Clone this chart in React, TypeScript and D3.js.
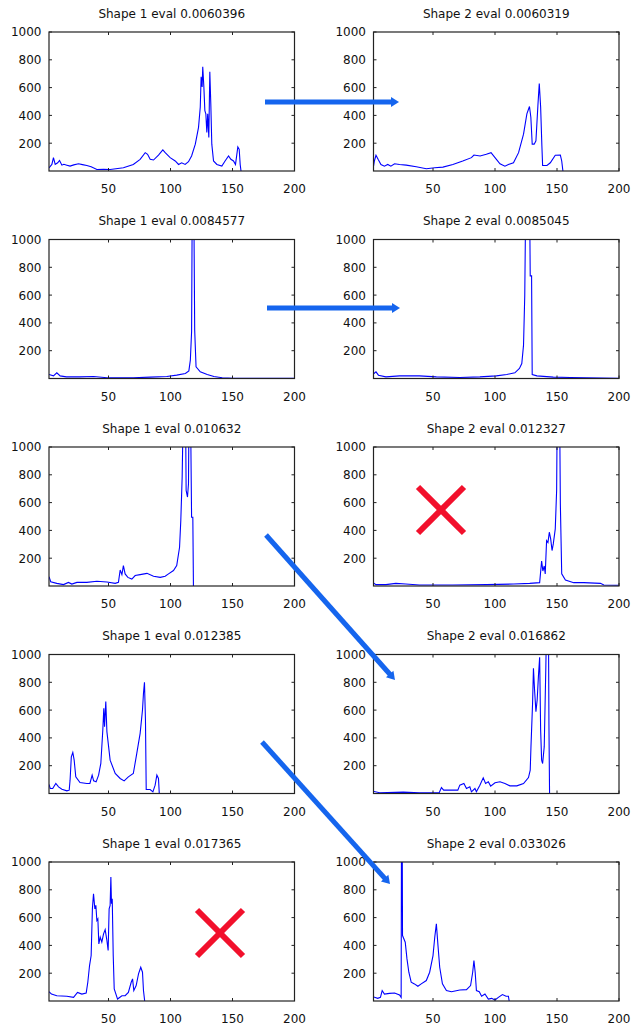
import React from "react";
import * as d3 from "d3";

type Pt = [number, number];

const titles: string[] = [
  "Shape 1 eval 0.0060396",
  "Shape 2 eval 0.0060319",
  "Shape 1 eval 0.0084577",
  "Shape 2 eval 0.0085045",
  "Shape 1 eval 0.010632",
  "Shape 2 eval 0.012327",
  "Shape 1 eval 0.012385",
  "Shape 2 eval 0.016862",
  "Shape 1 eval 0.017365",
  "Shape 2 eval 0.033026",
];

const xTicks = [50, 100, 150, 200];
const yTicks = [200, 400, 600, 800, 1000];

const row1Left: Pt[] = [
  [2, 23], [4.3, 47], [5.6, 96], [7, 47], [9, 59], [10.5, 76], [12.4, 42], [14, 48], [16.4, 42], [19, 35],
  [22, 44], [25.8, 52], [29, 46], [32.5, 40], [36, 30], [40.6, 11], [46, 12], [51.3, 11], [56, 16], [62, 23], [70, 47], [75.5, 84], [79.6, 132],
  [81.5, 120], [83.6, 84], [86.3, 79], [90.3, 115], [93.8, 152], [95.7, 132], [99.7, 96],
  [103.8, 72], [106.5, 47], [109, 59], [111.8, 47], [114.5, 67], [117, 108], [120, 193],
  [122.6, 314], [124, 460], [124.7, 678], [125.5, 605], [126, 750], [126.9, 605], [127.7, 435],
  [128.5, 411], [129.3, 278], [130, 411], [130.9, 241], [131.7, 714], [132.5, 484], [133.3, 193],
  [134.7, 72], [137.4, 47], [141.4, 35], [144, 72], [146.8, 108], [148.7, 84], [150.8, 72],
  [152.4, 47], [153.5, 120], [154.3, 173], [155.4, 156], [156.2, 47], [157, -10],
];

const row1Right: Pt[] = [
  [1.4, 0], [2.7, 72], [4, 113], [5.7, 84], [8, 47], [10.8, 35], [13.5, 47], [16, 35], [19, 52],
  [23, 47], [28.4, 42], [36.5, 30], [44.6, 16], [51.4, 23], [58, 28], [66, 47], [74, 72],
  [81, 96], [83, 115], [88, 108], [93, 120], [96.8, 132], [100, 96], [104, 52], [108, 35],
  [110.8, 47], [114.9, 59], [119, 132], [123, 265], [125.7, 411], [127.8, 464], [128.9, 387],
  [130, 193], [131.6, 193], [133, 217], [134.6, 472], [135.7, 629], [136.8, 460], [137.8, 181],
  [138.4, 40], [141.9, 40], [144.6, 59], [148.6, 113], [152.7, 115], [153.8, 72], [154.9, -10],
];

const row2Left: Pt[] = [
  [2, 29], [5.6, 19], [8.3, 41], [11, 19], [16, 12], [27, 12], [38, 14], [48.7, 5], [70, 5],
  [83.8, 10], [97, 14], [105, 24], [112, 36], [114.8, 55], [116, 132], [117, 336], [117.6, 1400],
  [118.7, 1400], [119.5, 348], [120.6, 84], [124, 48], [129.6, 29], [135, 14], [141.7, 5],
  [151, 2], [178, 2], [200, 2],
];

const row2Right: Pt[] = [
  [1.4, 29], [4, 48], [6, 24], [12, 12], [23, 19], [39, 19], [52.7, 12], [71.6, 7], [87.8, 12],
  [101, 19], [109.5, 29], [116, 41], [119.7, 72], [121.6, 108], [123, 240], [124, 600],
  [124.9, 1400], [127.8, 1400], [128.4, 738], [129.5, 738], [130, 29], [133.8, 19], [147, 10],
  [160.8, 7], [174, 5], [200, 2],
];

const row3Left: Pt[] = [
  [2, 67], [3.4, 31], [8.3, 19], [13.7, 10], [17.7, 26], [20.4, 14], [24.5, 26], [32.5, 26],
  [40.6, 34], [48.7, 29], [55.4, 19], [58, 26], [59.4, 115], [60.8, 82], [62, 147], [63.4, 87],
  [65.6, 62], [68.8, 50], [71.5, 75], [75.5, 82], [81, 91], [86.3, 70], [91.7, 62], [95.7, 70],
  [98.4, 87], [102.4, 111], [105, 147], [107.3, 279], [108.3, 471], [109.4, 784], [110.5, 1400],
  [112, 1400], [112.6, 688], [113.7, 640], [114.5, 736], [115, 1400], [116, 1400], [117, 495],
  [118, 495], [118.5, -10],
];

const row3Right: Pt[] = [
  [1.4, 26], [4, 10], [12, 10], [20, 19], [28, 14], [39, 7], [66, 7], [93, 10], [115, 14],
  [128, 19], [136, 24], [137.6, 180], [138.6, 108], [139.7, 144], [140.5, 86], [141.6, 326],
  [142.7, 312], [143.8, 387], [144.9, 339], [146, 255], [147, 303], [148.6, 411], [149.7, 688],
  [150.3, 1400], [152, 1400], [152.7, 591], [153.8, 87], [156.8, 43], [163.5, 24], [171.6, 24],
  [185, 19], [187.8, 7], [200, 5],
];

const row4Left: Pt[] = [
  [2, 65], [3, 36], [5, 36], [7.5, 72], [9.7, 48], [12.4, 31], [16.4, 19], [18.3, 24], [19, 96],
  [20, 264], [21.2, 295], [22.3, 240], [23.6, 120], [27, 79], [32.5, 72], [35, 72], [36.8, 132],
  [38, 91], [40, 84], [42, 132], [43.8, 216], [45.4, 457], [46.2, 613], [46.8, 481], [47.8, 661],
  [48.7, 445], [51.3, 240], [55.4, 144], [59.4, 108], [62.6, 91], [66, 120], [70, 144],
  [72.8, 288], [75.5, 433], [77.4, 601], [78.2, 721], [79, 800], [79.8, 529], [80.4, 29],
  [83.6, 29], [85.8, 12], [87.6, 60], [89, 132], [90.3, 108], [91, -10],
];

const row4Right: Pt[] = [
  [1.4, 17], [7, 5], [26, 10], [39, 5], [55, 5], [56.8, 43], [58.6, 24], [62, 24], [70, 24],
  [71.6, 60], [74.9, 72], [77, 36], [79.7, 48], [81, 12], [83.8, 36], [85, 12], [87.8, 60],
  [90.5, 113], [92.4, 72], [94.6, 84], [96.5, 53], [100, 77], [104, 84], [108, 72], [112, 55],
  [117.6, 55], [123, 72], [127, 115], [128.4, 168], [129, 337], [130.3, 649], [131, 901],
  [131.9, 745], [133, 589], [134, 673], [135, 841], [136, 980], [136.8, 457], [137.6, 240],
  [138.4, 216], [139.7, 337], [141, 913], [141.9, 1400], [143, 1400], [143.5, 493], [144, -10],
];

const row5Left: Pt[] = [
  [2, 67], [4, 50], [8.3, 38], [16.4, 34], [21.8, 26], [25, 62], [28.5, 50], [32, 58],
  [33.3, 135], [34.7, 255], [36, 327], [37, 663], [37.9, 772], [39, 663], [39.8, 688],
  [40.6, 579], [41.4, 591], [42.2, 411], [43.3, 459], [44.6, 423], [46, 483], [47.3, 514],
  [48.7, 435], [49.7, 363], [50.5, 663], [51.3, 688], [51.9, 892], [52.4, 700], [53, 736],
  [53.8, 327], [54.6, 87], [57.3, 14], [60.8, 38], [63.4, 38], [66, 62], [68.3, 135],
  [69.4, 159], [70.4, 75], [72.3, 111], [74.2, 195], [76, 243], [77.4, 207], [78.2, 75],
  [79.3, -10],
];

const row5Right: Pt[] = [
  [1.4, 31], [5.4, 19], [7.6, 26], [9, 75], [10.8, 50], [14.9, 55], [19, 58], [23, 43],
  [24.3, 26], [24.6, 1400], [25.1, 1400], [25.4, 471], [27.6, 423], [29, 303], [30.5, 207],
  [32.4, 135], [35, 123], [37.8, 106], [40.5, 123], [44.6, 147], [47.3, 207], [50, 327],
  [51.4, 459], [52.7, 555], [54, 399], [55.4, 243], [57.6, 123], [60.8, 75], [64.9, 67],
  [71.6, 79], [77, 82], [80.3, 111], [82, 207], [83, 291], [84, 207], [85, 75], [87.3, 67],
  [89.2, 34], [91.9, 50], [94.6, 14], [97.3, 19], [100, 7], [102.7, 26], [106, 46], [108.9, 34],
  [110.8, 34], [111.6, -10],
];

const series: Pt[][] = [
  row1Left, row1Right, row2Left, row2Right, row3Left,
  row3Right, row4Left, row4Right, row5Left, row5Right,
];

const W = 631;
const H = 1028;
const colLeft = [49, 373.5];
const plotW = 245.5;
const plotH = 139;
const rowTop = (i: number) => 32 + i * 207.5;
const FONT = "'DejaVu Sans', Verdana, sans-serif";

function Panel({ idx }: { idx: number }) {
  const row = Math.floor(idx / 2);
  const col = idx % 2;
  const x0 = colLeft[col];
  const y0 = rowTop(row);
  const xs = d3.scaleLinear().domain([2, 200]).range([x0, x0 + plotW]);
  const ys = d3.scaleLinear().domain([0, 1000]).range([y0 + plotH, y0]);
  const line = d3
    .line<Pt>()
    .x((d) => xs(d[0]))
    .y((d) => ys(d[1]));
  const clipId = `clip-${idx}`;
  const tl = 3;
  return (
    <g>
      <defs>
        <clipPath id={clipId}>
          <rect x={x0} y={y0} width={plotW} height={plotH} />
        </clipPath>
      </defs>
      <text
        x={x0 + plotW / 2}
        y={y0 - 14.5}
        textAnchor="middle"
        fontFamily={FONT}
        fontSize={12}
        fill="#111"
      >
        {titles[idx]}
      </text>
      <path
        d={line(series[idx]) || ""}
        fill="none"
        stroke="#0000ff"
        strokeWidth={1.1}
        clipPath={`url(#${clipId})`}
      />
      <rect x={x0} y={y0} width={plotW} height={plotH} fill="none" stroke="#222" strokeWidth={1.2} />
      {xTicks.map((t) => (
        <g key={`x${t}`}>
          <line x1={xs(t)} x2={xs(t)} y1={y0 + plotH} y2={y0 + plotH - tl} stroke="#222" />
          <line x1={xs(t)} x2={xs(t)} y1={y0} y2={y0 + tl} stroke="#222" />
          <text
            x={xs(t)}
            y={y0 + plotH + 22}
            textAnchor="middle"
            fontFamily={FONT}
            fontSize={12}
            fill="#111"
          >
            {t}
          </text>
        </g>
      ))}
      {yTicks.map((t) => (
        <g key={`y${t}`}>
          <line x1={x0} x2={x0 + tl} y1={ys(t)} y2={ys(t)} stroke="#222" />
          <line x1={x0 + plotW} x2={x0 + plotW - tl} y1={ys(t)} y2={ys(t)} stroke="#222" />
          <text
            x={x0 - 7.5}
            y={ys(t) + 4.4}
            textAnchor="end"
            fontFamily={FONT}
            fontSize={12}
            fill="#111"
          >
            {t}
          </text>
        </g>
      ))}
    </g>
  );
}

function Arrow({ x1, y1, x2, y2 }: { x1: number; y1: number; x2: number; y2: number }) {
  const ang = Math.atan2(y2 - y1, x2 - x1);
  const headLen = 8;
  const headHalf = 5;
  const bx = x2 - headLen * Math.cos(ang);
  const by = y2 - headLen * Math.sin(ang);
  const px = -Math.sin(ang);
  const py = Math.cos(ang);
  const pts = [
    [x2, y2],
    [bx + px * headHalf, by + py * headHalf],
    [bx - px * headHalf, by - py * headHalf],
  ]
    .map((p) => p.join(","))
    .join(" ");
  return (
    <g>
      <line x1={x1} y1={y1} x2={bx + Math.cos(ang)} y2={by + Math.sin(ang)} stroke="#1565ee" strokeWidth={5} />
      <polygon points={pts} fill="#1565ee" />
    </g>
  );
}

function Cross({ cx, cy, r }: { cx: number; cy: number; r: number }) {
  return (
    <g stroke="#f2102c" strokeWidth={6}>
      <line x1={cx - r} y1={cy - r} x2={cx + r} y2={cy + r} />
      <line x1={cx - r} y1={cy + r} x2={cx + r} y2={cy - r} />
    </g>
  );
}

export default function App() {
  return (
    <svg
      width={W}
      height={H}
      viewBox={`0 0 ${W} ${H}`}
      style={{ position: "absolute", left: 0, top: 0, background: "#fff" }}
    >
      <rect x={0} y={0} width={W} height={H} fill="#fff" />
      {series.map((_, i) => (
        <Panel key={i} idx={i} />
      ))}
      <Arrow x1={265} y1={102} x2={399} y2={102} />
      <Arrow x1={267} y1={308} x2={400} y2={308} />
      <Arrow x1={266} y1={535} x2={395} y2={680} />
      <Arrow x1={262} y1={742} x2={390} y2={884} />
      <Cross cx={441} cy={510} r={23} />
      <Cross cx={220} cy={933} r={23} />
    </svg>
  );
}
